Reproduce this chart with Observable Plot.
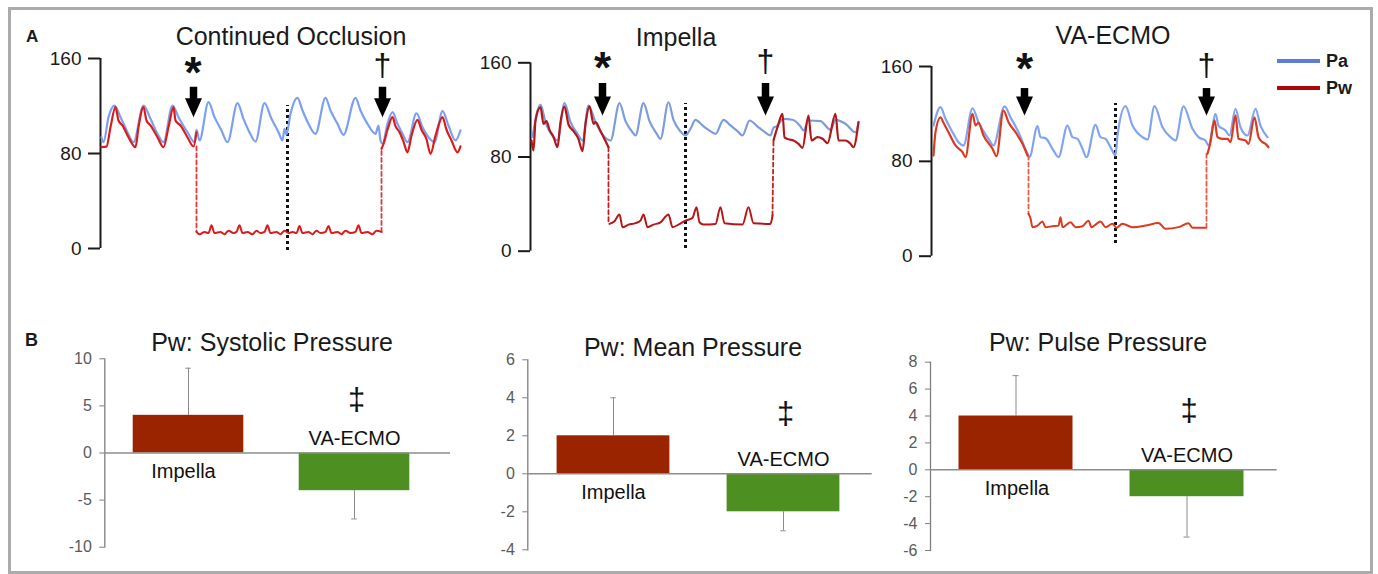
<!DOCTYPE html>
<html><head><meta charset="utf-8">
<script src="https://cdn.jsdelivr.net/npm/d3@7"></script>
<script src="https://cdn.jsdelivr.net/npm/@observablehq/plot@0.6"></script>
<style>
html,body{margin:0;padding:0;background:#fff;}
#root{position:relative;width:1378px;height:574px;overflow:hidden;font-family:"Liberation Sans",Arial,sans-serif;color:#1a1a1a;}
.frame{position:absolute;left:8px;top:7px;width:1359px;height:561px;border:3px solid #ababab;}
.plotbox{position:absolute;}
.ctitle{position:absolute;transform:translate(-50%,-50%);font-size:25px;line-height:1;white-space:nowrap;}
.plabel{position:absolute;font-weight:bold;font-size:17px;line-height:1;}
.leg-line{position:absolute;width:43px;height:4px;}
.leg-text{position:absolute;font-weight:bold;font-size:18px;line-height:1;transform:translateY(-50%);}
</style></head>
<body><div id="root"><div class="frame"></div></div>
<script>
// ---------- Panel A data: time (arbitrary units) , pressure (mmHg) ----------
const aTicks = [0, 80, 160];
const aDomain = [0, 160];
const aTitles = ["Continued Occlusion", "Impella", "VA-ECMO"];

const pa1 = [[1,93.7],[3,89.5],[8,110.6],[14,120.4],[20,110.6],[27,97.9],[33,89.5],[43,120.4],[50,109.2],[57,96.6],[63,89.5],[72,120.4],[78,110.6],[87,97.9],[94,89.5],[96,100],[99,91],[108,123.2],[114,110.6],[121,99.4],[127,89.5],[137,122.4],[143,109.2],[149,97.9],[155,90.1],[164,122.4],[171,109.2],[178,97.9],[182,91],[184,100.8],[186,96],[190,113.4],[197,126.9],[202,116.2],[208,105],[215,96.6],[225,126.9],[230,116.2],[237,105],[243,95.7],[255,126.9],[260,116.2],[267,105],[275,96.6],[278,103.6],[280,91],[282,88.2],[287,105],[292,114.8],[297,105],[302,96.6],[307,89.5],[316,113.9],[322,102.1],[328,93.7],[334,89.5],[342,115.6],[348,103.6],[355,91],[360,99.4]];
const pw1Pre = [[1,85.3],[6,85.8],[10,102.1],[15,119],[18,107.8],[22,103.6],[28,93.7],[35,85.3],[38,102.1],[43,119],[46,107.8],[50,103.6],[57,93.7],[63,85.3],[68,102.1],[73,119],[75,107.8],[80,103.6],[87,93.7],[93,85.9],[96,97.9]];
const pw1Drop = [[96,86],[96,14]];
const pw1Occl = [[96,14],[99,12],[104,14],[108,13],[111,19.5],[114,13],[120,14],[124,12],[128,15],[133,13],[136,14],[139,19.5],[142,13],[147,14],[152,12],[156,15],[160,13],[164,14],[167,19.5],[170,13],[176,14],[180,12],[184,15],[188,13],[192,14],[196,13],[199,19],[202,13],[208,14],[212,12],[216,15],[220,13],[225,14],[228,19],[231,13],[237,14],[241,12],[245,15],[250,13],[255,14],[258,19.5],[261,13],[267,14],[272,12],[276,15],[281,14]];
const pw1Rise = [[281,14],[281,84]];
const pw1Post = [[281,84],[283,88],[287,100],[292,110.6],[295,103],[299,98],[303,90],[307,81],[311,95],[317,108.4],[321,100],[326,92],[330,79.7],[335,95],[342,110.6],[346,100],[351,91],[357,81],[360,86]];

const pa2 = [[2,97],[10,124.6],[15,109.6],[23,96.8],[27,94],[34,125.7],[40,109.6],[47,99.7],[52,94],[58,123.7],[65,109.6],[73,98],[80,94],[89,125.7],[95,110.5],[102,101],[105,98.3],[113,125.7],[119,110.5],[126,100],[130,95.4],[138,126.5],[143,111.5],[150,101.7],[155,98.3],[160,104],[165,111.6],[172,106.8],[178,103],[185,99.7],[193,111.6],[200,106.8],[207,102],[212,98.3],[219,111],[227,105.9],[233,102],[240,98.3],[243,104.8],[246,106],[253,112.4],[262,111.6],[270,105.9],[273,102.5],[278,111],[290,110.5],[297,104.8],[300,103],[305,111.6],[315,108.2],[325,101],[328,109.4]];
const pw2Pre = [[1,94],[3,85.5],[5,111],[10,122.3],[13,108.2],[16,110.4],[19,103],[23,97.1],[27,88.3],[30,109.6],[34,122.9],[38,107.6],[43,102],[48,95.2],[52,84.9],[55,107.8],[59,123],[63,108.2],[65,109.6],[70,102],[75,93.5],[78,88.3]];
const pw2Drop = [[78,88.3],[78,23.2]];
const pw2Occl = [[79,23.2],[84,25.5],[89,31.2],[92,20.4],[98,22.6],[105,23.8],[110,26],[113,31.2],[117,20.4],[123,22.6],[130,24.5],[138,31.2],[142,20.4],[148,22.6],[155,26],[162,28.3],[166,37.4],[169,24.6],[173,22.6],[185,23.2],[190,37.4],[194,23.8],[212,22.6],[218,37.4],[223,23.8],[240,23.2],[242,30.3]];
const pw2Rise = [[242,30.3],[243,94]];
const pw2Post = [[243,94],[247,105.3],[252,116.7],[254,96.8],[258,95],[263,94],[268,91.2],[272,87.8],[278,115.2],[281,94],[287,96.8],[292,95.5],[297,91.8],[305,116.7],[308,94],[315,94],[320,91.2],[323,88.3],[328,109.6]];

const pa3 = [[2,110.2],[9,125.7],[14,115.9],[21,104.6],[27,96.2],[32,93.4],[41,124.8],[47,113],[57,99],[62,93.4],[73,126.3],[79,117.2],[87,104.6],[96,86.4],[98,83.5],[106,109.7],[109,100.4],[114,99.6],[121,90.6],[127,83.5],[136,110.2],[141,100.4],[146,99],[151,90.6],[155,83.5],[164,110.8],[169,100.4],[174,99],[179,92],[184,85],[186,101.8],[194,126.5],[201,110.2],[211,100.4],[216,98.4],[223,126.5],[231,108.8],[239,100.4],[244,97.6],[252,126.3],[261,107.5],[267,100.4],[274,97.6],[277,93.4],[284,120.1],[287,110.2],[294,106],[298,101.8],[304,124.3],[309,108.8],[316,101.8],[324,124.3],[329,110.2],[336,100.4]];
const pw3Pre = [[2,84.9],[4,104.6],[9,117.2],[12,112.5],[17,104.6],[24,93.4],[31,87.7],[34,83.5],[41,120.1],[44,110.2],[47,112.5],[52,101.8],[61,90.6],[65,84.3],[72,122.9],[77,113],[84,104.6],[91,94.8],[96,84.9]];
const pw3Drop = [[97,84.9],[97,35.8]];
const pw3Occl = [[97,35.8],[99,32],[101,24.5],[106,25.8],[111,29.3],[114,24.5],[121,25.3],[127,25.8],[129,32.9],[131,24.5],[139,28.7],[144,24.5],[151,25.3],[157,30],[160,24.5],[169,29.3],[174,24.5],[181,27.3],[185,24],[191,27.3],[201,24.5],[214,25.8],[227,28],[234,23.1],[247,24.5],[257,27.8],[261,24],[274,24]];
const pw3Rise = [[275,24],[275,86.4]];
const pw3Post = [[276,86.4],[279,96.2],[283,114.5],[286,100.4],[291,99],[296,99],[299,96.2],[304,118.7],[307,99],[314,97.6],[317,94.8],[323,117.2],[327,100.4],[331,96.2],[334,94.8],[337,91.9]];

// annotations: arrows (time, top, tip), markers, dotted divider (time, from, to)
const arrows1 = [{t:93, top:135.8, tip:110.6},{t:282, top:135.8, tip:110.6}];
const arrows2 = [{t:72, top:142.4, tip:115.2},{t:235, top:142.4, tip:115.2}];
const arrows3 = [{t:93, top:141.4, tip:118.7},{t:275, top:141.4, tip:118.7}];
const marks1 = [{t:92.5, y:152.4, s:"*"},{t:282, y:153.5, s:"†"}];
const marks2 = [{t:72, y:159.8, s:"*"},{t:235, y:161.3, s:"†"}];
const marks3 = [{t:93, y:162.3, s:"*"},{t:275, y:160.8, s:"†"}];
const divider1 = [{t:187, y1:-1.7, y2:120.4}];
const divider2 = [{t:155, y1:2.3, y2:125.4}];
const divider3 = [{t:184, y1:10.7, y2:128.8}];

// ---------- Panel B data ----------
const bCats = ["Impella", "VA-ECMO"];
const bColors = ["#9a2400", "#4e8f22"];
const bTitles = ["Pw: Systolic Pressure", "Pw: Mean Pressure", "Pw: Pulse Pressure"];
const sysMean = [4, -4],  sysErr = [5, 3];
const meanMean = [2, -2], meanErr = [2, 1];
const pulseMean = [4, -2], pulseErr = [3, 3];
const sysTicks = [-10, -5, 0, 5, 10];
const meanTicks = [-4, -2, 0, 2, 4, 6];
const pulseTicks = [-6, -4, -2, 0, 2, 4, 6, 8];
const sigMark = "‡";
const sigY = [5.6, 3.16, 4.33];

// ---------- helpers ----------
const root = document.getElementById("root");
const FONT = '"Liberation Sans", Arial, sans-serif';
const P = d => d[0], V = d => d[1];
const arrowHead = {draw(ctx) { ctx.moveTo(-8.5, -19); ctx.lineTo(8.5, -19); ctx.lineTo(0, 0); ctx.closePath(); }};

function place(el, left, top) {
  const box = document.createElement("div");
  box.className = "plotbox";
  box.style.left = left + "px"; box.style.top = top + "px";
  box.appendChild(el); root.appendChild(box);
}
function addText(cls, text, x, y, extra) {
  const d = document.createElement("div");
  d.className = cls; d.textContent = text;
  d.style.left = x + "px"; d.style.top = y + "px";
  if (extra) Object.assign(d.style, extra);
  root.appendChild(d);
}

function wavePanel(c) {
  const curve = "monotone-x";
  const svg = Plot.plot({
    width: c.width, height: 240,
    marginLeft: 70, marginRight: c.mr, marginTop: c.mt, marginBottom: 240 - c.mt - c.ph,
    style: {background: "transparent", fontFamily: FONT, overflow: "visible"},
    x: {domain: c.tDomain, axis: null},
    y: {domain: aDomain, axis: null},
    marks: [
      Plot.axisY({ticks: aTicks, tickSize: 12, tickPadding: 7, fontSize: 19, strokeWidth: 2, color: "#1a1a1a", label: null}),
      Plot.ruleX([0], {y1: aDomain[0], y2: aDomain[1], strokeWidth: 2, stroke: "#1a1a1a"}),
      Plot.ruleX(c.divider, {x: "t", y1: "y1", y2: "y2", stroke: "#111", strokeWidth: 3, strokeDasharray: "3,3"}),
      Plot.line(c.pa, {x: P, y: V, stroke: c.blue, strokeWidth: 2.2, curve}),
      Plot.line(c.pwDrop, {x: P, y: V, stroke: c.redDash, strokeWidth: 1.8, strokeDasharray: "4,3"}),
      Plot.line(c.pwRise, {x: P, y: V, stroke: c.redDash, strokeWidth: 1.8, strokeDasharray: "4,3"}),
      Plot.line(c.pwOccl, {x: P, y: V, stroke: c.red, strokeWidth: 2, curve}),
      Plot.line(c.pwPre, {x: P, y: V, stroke: c.red, strokeWidth: 2.2, curve}),
      Plot.line(c.pwPost, {x: P, y: V, stroke: c.red, strokeWidth: 2.2, curve}),
      Plot.ruleX(c.arrows, {x: "t", y1: "top", y2: "tip", stroke: "#000", strokeWidth: 7.5, insetBottom: 15}),
      Plot.dot(c.arrows, {x: "t", y: "tip", symbol: arrowHead, r: 5, fill: "#000", stroke: "none"}),
      Plot.text(c.marks.filter(d => d.s === "*"), {x: "t", y: "y", text: "s", fontSize: 44, fontWeight: "bold", dy: 6, fill: "#111"}),
      Plot.text(c.marks.filter(d => d.s !== "*"), {x: "t", y: "y", text: "s", fontSize: 32, fill: "#111"})
    ]
  });
  place(svg, c.left, c.top);
}

function barPanel(c) {
  const data = bCats.map((cat, i) => ({cat, v: c.means[i], e: c.errs[i], end: c.means[i] + Math.sign(c.means[i]) * c.errs[i]}));
  const step = (c.xr[1] - c.xr[0]) / bCats.length;
  const svg = Plot.plot({
    width: 440, height: 254,
    marginLeft: c.ml, marginRight: c.mr, marginTop: c.mt, marginBottom: c.mb,
    style: {background: "transparent", fontFamily: FONT, overflow: "visible"},
    x: {domain: bCats, range: c.xr, padding: 0, axis: null},
    y: {domain: [c.ticks[0], c.ticks[c.ticks.length - 1]], axis: null},
    color: {domain: bCats, range: bColors},
    marks: [
      Plot.axisY({ticks: c.ticks, tickSize: 5, tickPadding: 8, fontSize: 16, color: "#5a5a5a", stroke: "#7f7f7f", tickFormat: d => String(d), label: null}),
      Plot.frame({anchor: "left", stroke: "#7f7f7f", strokeWidth: 1.3}),
      Plot.ruleX(data, {x: "cat", y1: "v", y2: "end", stroke: "#8c8c8c", strokeWidth: 1}),
      Plot.tickY(data, {y: "end", x: "cat", stroke: "#8c8c8c", strokeWidth: 1, insetLeft: (step - 6) / 2, insetRight: (step - 6) / 2}),
      Plot.barY(data, {x: "cat", y: "v", fill: "cat", insetLeft: c.inset, insetRight: c.inset}),
      Plot.ruleY([0], {stroke: "#8c8c8c", strokeWidth: 1.5}),
      Plot.text(data.filter(d => d.v > 0), {x: "cat", y: 0, text: "cat", dy: 19, dx: c.labelDx, fontSize: 20, fill: "#111"}),
      Plot.text(data.filter(d => d.v < 0), {x: "cat", y: 0, text: "cat", dy: -14, fontSize: 20, fill: "#111"}),
      Plot.text([{cat: bCats[1], y: c.sigY}], {x: "cat", y: "y", text: () => sigMark, fontSize: 31, dx: 2, fill: "#111"})
    ]
  });
  place(svg, c.left, c.top);
}

// ---------- panel A ----------
wavePanel({left: 30, top: 30, width: 440, mr: 8, mt: 28, ph: 190, tDomain: [0, 362],
  pa: pa1, pwPre: pw1Pre, pwDrop: pw1Drop, pwOccl: pw1Occl, pwRise: pw1Rise, pwPost: pw1Post,
  arrows: arrows1, marks: marks1, divider: divider1, blue: "#7ba0f2", red: "#dc1c1c", redDash: "#e2383a"});
wavePanel({left: 460, top: 30, width: 410, mr: 8, mt: 32.3, ph: 188.4, tDomain: [0, 332],
  pa: pa2, pwPre: pw2Pre, pwDrop: pw2Drop, pwOccl: pw2Occl, pwRise: pw2Rise, pwPost: pw2Post,
  arrows: arrows2, marks: marks2, divider: divider2, blue: "#7c9ddc", red: "#b41717", redDash: "#c02020"});
wavePanel({left: 861, top: 30, width: 420, mr: 10, mt: 36, ph: 189.7, tDomain: [0, 340],
  pa: pa3, pwPre: pw3Pre, pwDrop: pw3Drop, pwOccl: pw3Occl, pwRise: pw3Rise, pwPost: pw3Post,
  arrows: arrows3, marks: marks3, divider: divider3, blue: "#82a4f0", red: "#dc3a1f", redDash: "#e85a4a"});

// ---------- panel B ----------
barPanel({left: 20, top: 320, ml: 84.3, mr: 10, mt: 38.3, mb: 27.3, xr: [84.6, 417.4], inset: 27.7, labelDx: -5,
  means: sysMean, errs: sysErr, ticks: sysTicks, sigY: sigY[0]});
barPanel({left: 450, top: 320, ml: 77.3, mr: 18.3, mt: 39.3, mb: 24.7, xr: [77, 418.4], inset: 28.6, labelDx: 0,
  means: meanMean, errs: meanErr, ticks: meanTicks, sigY: sigY[1]});
barPanel({left: 860, top: 320, ml: 70, mr: 23.3, mt: 41.7, mb: 24, xr: [69.8, 411.8], inset: 28.5, labelDx: 1,
  means: pulseMean, errs: pulseErr, ticks: pulseTicks, sigY: sigY[2]});

// ---------- titles, panel letters, legend ----------
addText("ctitle", aTitles[0], 291, 36);
addText("ctitle", aTitles[1], 676, 37);
addText("ctitle", aTitles[2], 1113, 35);
addText("ctitle", bTitles[0], 272, 342);
addText("ctitle", bTitles[1], 693, 347);
addText("ctitle", bTitles[2], 1098, 342);
addText("plabel", "A", 26, 28);
addText("plabel", "B", 25, 331, {fontSize: "18px"});

const legend = [{name: "Pa", color: "#5b7fd6", y: 61}, {name: "Pw", color: "#a80a0a", y: 88}];
legend.forEach(l => {
  const ln = document.createElement("div");
  ln.className = "leg-line"; ln.style.left = "1277px"; ln.style.top = (l.y - 2) + "px"; ln.style.background = l.color;
  root.appendChild(ln);
  addText("leg-text", l.name, 1326, l.y);
});
</script>
</body></html>
